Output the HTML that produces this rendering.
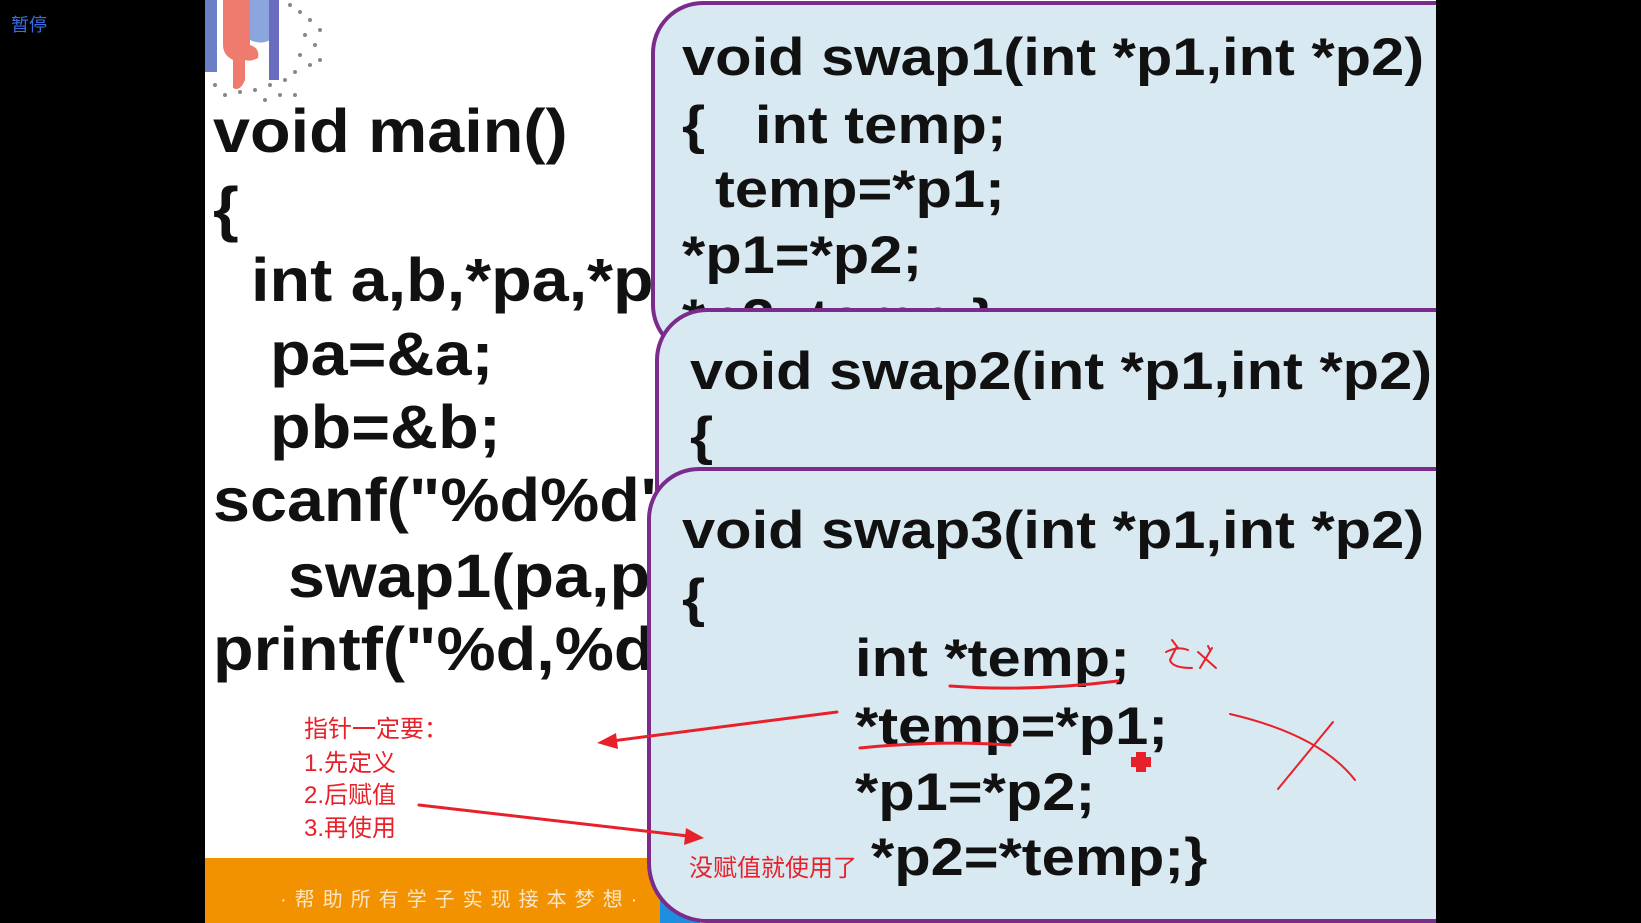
<!DOCTYPE html>
<html><head><meta charset="utf-8"><style>
html,body{margin:0;padding:0;}
body{width:1641px;height:923px;position:relative;overflow:hidden;background:#000;font-family:"Liberation Sans","Noto Sans CJK SC",sans-serif;}
.a{position:absolute;white-space:pre;}
.c{font-weight:bold;color:#111;line-height:1;transform-origin:0 0;}
.m{font-size:61px;transform:scaleX(1.09);}
.s{font-size:53px;transform:scaleX(1.125);}
.box{position:absolute;background:#d9e9f1;border:4px solid #7a2b8c;border-radius:52px;box-sizing:border-box;}
.r{color:#e8202a;font-size:24px;line-height:1;font-family:"Liberation Sans","Noto Sans CJK SC",sans-serif;}
</style></head><body>
<div class="a" style="left:205px;top:0;width:1231px;height:923px;background:#fff"></div>
<svg class="a" style="left:205px;top:0" width="130" height="110">
<g fill="#888">
<circle cx="85" cy="5" r="2"/><circle cx="95" cy="12" r="2"/><circle cx="105" cy="20" r="2"/><circle cx="100" cy="35" r="2"/><circle cx="110" cy="45" r="2"/><circle cx="95" cy="55" r="2"/><circle cx="105" cy="65" r="2"/><circle cx="90" cy="72" r="2"/><circle cx="80" cy="80" r="2"/><circle cx="65" cy="85" r="2"/><circle cx="50" cy="90" r="2"/><circle cx="35" cy="92" r="2"/><circle cx="20" cy="95" r="2"/><circle cx="10" cy="85" r="2"/><circle cx="60" cy="100" r="2"/><circle cx="90" cy="95" r="2"/><circle cx="115" cy="30" r="2"/><circle cx="115" cy="60" r="2"/><circle cx="75" cy="95" r="2"/>
</g>
<rect x="0" y="0" width="12" height="72" fill="#6b7fc4"/>
<path d="M18 0 H45 V45 Q55 48 53 58 Q45 62 40 60 V80 Q35 92 28 88 V60 Q18 55 18 45 Z" fill="#ef7a6e"/>
<path d="M45 0 H68 V38 Q58 46 45 40 Z" fill="#8aa6dc"/>
<rect x="64" y="0" width="10" height="80" fill="#6a6cc0"/>
</svg>
<div class="a c m" style="left:213px;top:101px">void main()</div>
<div class="a c m" style="left:213px;top:179px">{</div>
<div class="a c m" style="left:251px;top:250px">int a,b,*pa,*pb;</div>
<div class="a c m" style="left:270px;top:324px">pa=&amp;a;</div>
<div class="a c m" style="left:270px;top:397px">pb=&amp;b;</div>
<div class="a c m" style="left:213px;top:470px">scanf("%d%d",pa,pb);</div>
<div class="a c m" style="left:288px;top:546px">swap1(pa,pb);</div>
<div class="a c m" style="left:213px;top:619px">printf("%d,%d",a,b);</div>
<div class="a" style="left:205px;top:858px;width:460px;height:65px;background:#f39200"></div>
<div class="a" style="left:280px;top:883px;color:#fbe6c8;font-size:20px;letter-spacing:8px;font-family:'Liberation Sans','Noto Sans CJK SC',sans-serif">·帮助所有学子实现接本梦想·</div>
<div class="a" style="left:660px;top:890px;width:40px;height:33px;background:#1d8fe0"></div>
<div class="box" style="left:651px;top:1px;width:900px;height:356px"></div>
<div class="a c s" style="left:682px;top:31px">void swap1(int *p1,int *p2)</div>
<div class="a c s" style="left:682px;top:99px">{   int temp;</div>
<div class="a c s" style="left:715px;top:163px">temp=*p1;</div>
<div class="a c s" style="left:682px;top:229px">*p1=*p2;</div>
<div class="a c s" style="left:682px;top:292px">*p2=temp;}</div>
<div class="box" style="left:655px;top:308px;width:900px;height:300px"></div>
<div class="a c s" style="left:690px;top:345px">void swap2(int *p1,int *p2)</div>
<div class="a c s" style="left:690px;top:410px">{</div>
<div class="box" style="left:647px;top:467px;width:900px;height:456px;border-bottom-left-radius:60px"></div>
<div class="a c s" style="left:682px;top:504px">void swap3(int *p1,int *p2)</div>
<div class="a c s" style="left:682px;top:572px">{</div>
<div class="a c s" style="left:855px;top:632px">int *temp;</div>
<div class="a c s" style="left:855px;top:700px">*temp=*p1;</div>
<div class="a c s" style="left:855px;top:766px">*p1=*p2;</div>
<div class="a c s" style="left:871px;top:831px">*p2=*temp;}</div>
<div class="a" style="left:1436px;top:0;width:205px;height:923px;background:#000"></div>
<div class="a" style="left:11px;top:11px;color:#3b6fe0;font-size:18px;font-family:'Liberation Sans','Noto Sans CJK SC',sans-serif">暂停</div>
<div class="a r" style="left:304px;top:718px">指针一定要：</div>
<div class="a r" style="left:304px;top:752px">1.先定义</div>
<div class="a r" style="left:304px;top:784px">2.后赋值</div>
<div class="a r" style="left:304px;top:817px">3.再使用</div>
<div class="a r" style="left:689px;top:857px">没赋值就使用了</div>
<svg class="a" style="left:0;top:0" width="1641" height="923">
<g stroke="#e8202a" fill="none" stroke-linecap="round">
<line x1="837" y1="712" x2="612" y2="741" stroke-width="3"/>
<polygon points="597,743 616,733 618,749" fill="#e8202a" stroke="none"/>
<line x1="419" y1="805" x2="688" y2="836" stroke-width="3"/>
<polygon points="704,838 684,845 686,828" fill="#e8202a" stroke="none"/>
<path d="M950 686 Q1030 692 1118 681" stroke-width="3"/>
<path d="M860 748 Q940 740 1010 745" stroke-width="3"/>
<path d="M1230 714 Q1320 735 1355 780" stroke-width="2"/>
<line x1="1333" y1="722" x2="1278" y2="789" stroke-width="2"/>
<path d="M1172 640 L1178 648 M1166 652 Q1178 646 1188 650 M1170 660 Q1172 668 1192 668 M1176 648 L1170 660" stroke-width="2"/>
<path d="M1198 652 L1216 668 M1212 648 L1200 668 M1208 646 L1210 650" stroke-width="2"/>
</g>
<path d="M1136 752 h10 v5 h5 v10 h-5 v5 h-10 v-5 h-5 v-10 h5 z" fill="#e8202a"/>
</svg>
</body></html>
